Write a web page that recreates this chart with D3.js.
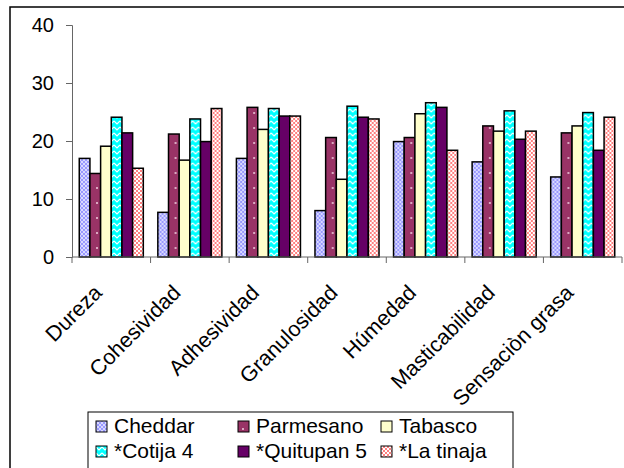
<!DOCTYPE html>
<html lang="es">
<head>
  <meta charset="UTF-8">
  <title>Perfil de textura</title>
  <script src="https://d3js.org/d3.v7.min.js"></script>
  <style>
    body { margin: 0; background: #fff; }
    svg { font-family: "Liberation Sans", Arial, sans-serif; display: block; }
  </style>
</head>
<body>
  <svg width="624" height="468"></svg>
  <script>
    // data
    const categories = ["Dureza", "Cohesividad", "Adhesividad", "Granulosidad", "Húmedad", "Masticabilidad", "Sensaciòn grasa"];
    const seriesNames = ["Cheddar", "Parmesano", "Tabasco", "*Cotija 4", "*Quitupan 5", "*La tinaja"];
    const cheddar   = [17.0, 7.7, 17.0, 8.0, 19.9, 16.4, 13.8];
    const parmesano = [14.4, 21.2, 25.8, 20.6, 20.6, 22.6, 21.4];
    const tabasco   = [19.1, 16.7, 22.0, 13.4, 24.7, 21.7, 22.6];
    const cotija    = [24.1, 23.8, 25.6, 26.0, 26.6, 25.2, 24.9];
    const quitupan  = [21.4, 19.9, 24.3, 24.1, 25.8, 20.3, 18.4];
    const tinaja    = [15.3, 25.6, 24.3, 23.8, 18.4, 21.7, 24.1];
    const yTicks = [0, 10, 20, 30, 40];

    const seriesValues = [cheddar, parmesano, tabasco, cotija, quitupan, tinaja];

    const svg = d3.select("svg");
    const defs = svg.append("defs");

    // fill patterns, in the style of the old spreadsheet chart
    function pattern(id, w, h, bg, draw) {
      const p = defs.append("pattern")
        .attr("id", id)
        .attr("patternUnits", "userSpaceOnUse")
        .attr("width", w).attr("height", h);
      p.append("rect").attr("width", w).attr("height", h).attr("fill", bg);
      draw(p);
    }
    pattern("pCheddar", 4, 4, "#9999ff", p => {
      p.append("path").attr("d", "M0,0L4,4M4,0L0,4").attr("stroke", "#d8d8ff").attr("stroke-width", 1);
    });
    pattern("pParm", 10, 15, "#993366", p => {
      p.append("circle").attr("cx", 5).attr("cy", 8).attr("r", 1).attr("fill", "#f0d0e0");
    });
    pattern("pCotija", 6, 6, "#00ffff", p => {
      p.append("path").attr("d", "M0,1L3,4L6,1").attr("fill", "none").attr("stroke", "#fff").attr("stroke-width", 1.2);
    });
    pattern("pTinaja", 4, 4, "#ff8080", p => {
      p.append("rect").attr("width", 2).attr("height", 2).attr("fill", "#fff");
      p.append("rect").attr("x", 2).attr("y", 2).attr("width", 2).attr("height", 2).attr("fill", "#fff");
    });

    const fills = ["url(#pCheddar)", "url(#pParm)", "#ffffcc", "url(#pCotija)", "#660066", "url(#pTinaja)"];

    // chart area border
    svg.append("rect")
      .attr("x", 10).attr("y", 7)
      .attr("width", 640).attr("height", 500)
      .attr("fill", "none").attr("stroke", "#000").attr("stroke-width", 1.5);

    const x0 = d3.scaleBand().domain(categories).range([72, 622]).paddingInner(0).paddingOuter(0);
    const x1 = d3.scaleBand().domain(seriesNames).range([0, x0.bandwidth()]).paddingOuter(0.68);
    const y = d3.scaleLinear().domain([0, 40]).range([257, 25]);

    // bars
    const groups = svg.append("g").selectAll("g")
      .data(categories)
      .join("g")
      .attr("transform", d => `translate(${x0(d)},0)`);

    groups.selectAll("rect")
      .data((c, ci) => seriesNames.map((s, si) => ({ s, si, v: seriesValues[si][ci] })))
      .join("rect")
      .attr("x", d => x1(d.s))
      .attr("y", d => y(d.v))
      .attr("width", x1.bandwidth())
      .attr("height", d => y(0) - y(d.v))
      .attr("fill", d => fills[d.si])
      .attr("stroke", "#000")
      .attr("stroke-width", 1.5);

    // y axis
    const yAxis = svg.append("g")
      .attr("transform", "translate(72,0)")
      .call(d3.axisLeft(y).tickValues(yTicks).tickSize(6).tickPadding(12));
    yAxis.selectAll("path, line").attr("stroke", "#666");
    yAxis.selectAll("text").attr("font-size", 20).attr("fill", "#000")
      .attr("font-family", "Liberation Sans, Arial, sans-serif");

    // x axis with ticks at category boundaries
    const xAxis = svg.append("g").attr("transform", `translate(0,${y(0)})`);
    xAxis.append("line")
      .attr("x1", x0.range()[0]).attr("x2", x0.range()[1])
      .attr("stroke", "#666");
    const bounds = categories.map(c => x0(c)).concat([x0.range()[1]]);
    xAxis.selectAll(".tk").data(bounds).join("line")
      .attr("class", "tk")
      .attr("x1", d => d).attr("x2", d => d)
      .attr("y1", 0).attr("y2", 6)
      .attr("stroke", "#666");

    xAxis.selectAll("text").data(categories).join("text")
      .attr("text-anchor", "end")
      .attr("font-size", 21.5)
      .attr("transform", d => `translate(${x0(d) + x0.bandwidth() / 2 - 8},37) rotate(-45)`)
      .text(d => d);

    // legend
    const legend = svg.append("g");
    legend.append("rect")
      .attr("x", 88).attr("y", 412)
      .attr("width", 425).attr("height", 80)
      .attr("fill", "#fff").attr("stroke", "#000").attr("stroke-width", 1);

    const colX = [96, 238, 381];
    const item = legend.selectAll(".item").data(seriesNames).join("g")
      .attr("class", "item")
      .attr("transform", (d, i) => `translate(${colX[i % 3]},${421 + Math.floor(i / 3) * 25})`);
    item.append("rect")
      .attr("width", 11).attr("height", 11)
      .attr("fill", (d, i) => fills[i])
      .attr("stroke", "#000").attr("stroke-width", 1);
    item.append("text")
      .attr("x", 18).attr("y", 12)
      .attr("font-size", 21)
      .text(d => d);
  </script>
</body>
</html>
